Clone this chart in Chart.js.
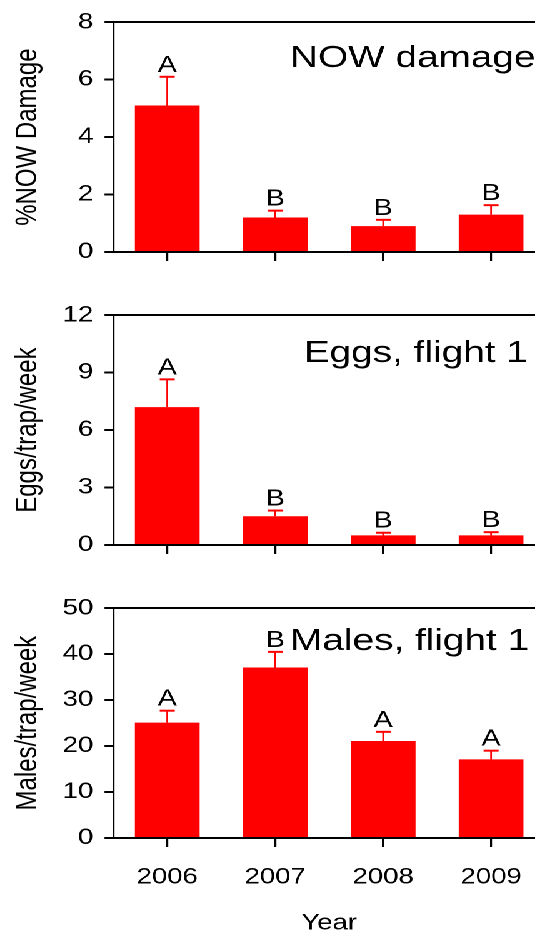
<!DOCTYPE html>
<html>
<head>
<meta charset="utf-8">
<script src="https://cdn.jsdelivr.net/npm/chart.js@4.4.1/dist/chart.umd.min.js"></script>
<style>
  html, body { margin: 0; padding: 0; background: #fff; width: 535px; height: 933px; overflow: hidden; }
  /* the original figure is stretched sideways, so the whole stack is too */
  #wrap { width: 437px; transform: scaleX(1.25); transform-origin: 0 0; }
  .panel { position: relative; width: 437px; }
</style>
</head>
<body>
<div id="wrap">
  <div class="panel" style="height:293px"><canvas id="damage"></canvas></div>
  <div class="panel" style="height:293px"><canvas id="eggs"></canvas></div>
  <div class="panel" style="height:347px"><canvas id="males"></canvas></div>
</div>
<script>
// Dados
const years = ['2006', '2007', '2008', '2009'];

const damageMean = [5.1, 1.2, 0.9, 1.3];
const damageSE = [1.0, 0.24, 0.22, 0.33];
const damageLetters = ['A', 'B', 'B', 'B'];

const eggsMean = [7.2, 1.5, 0.5, 0.5];
const eggsSE = [1.45, 0.3, 0.14, 0.17];
const eggsLetters = ['A', 'B', 'B', 'B'];

const malesMean = [25.1, 37.1, 21.1, 17.1];
const malesSE = [2.6, 3.4, 2.0, 1.9];
const malesLetters = ['A', 'B', 'A', 'A'];

const FONT = "'Liberation Sans', Arial, sans-serif";

// barras de erro (só para cima), letras e o título do painel
function annotate(mean, se, letters, title, tx, ty) {
  return {
    id: 'annotate',
    afterDatasetsDraw(chart) {
      const ctx = chart.ctx;
      const xs = chart.scales.x;
      const ys = chart.scales.y;
      ctx.save();
      ctx.strokeStyle = '#ff0000';
      ctx.fillStyle = '#000';
      ctx.font = '23px ' + FONT;
      ctx.textAlign = 'center';
      ctx.textBaseline = 'alphabetic';
      mean.forEach((m, i) => {
        const x = xs.getPixelForValue(i);
        const y0 = ys.getPixelForValue(m);
        const y1 = ys.getPixelForValue(m + se[i]);
        ctx.lineWidth = 1.4;
        ctx.beginPath();
        ctx.moveTo(x, y0);
        ctx.lineTo(x, y1);
        ctx.stroke();
        ctx.lineWidth = 2;
        ctx.beginPath();
        ctx.moveTo(x - 6, y1);
        ctx.lineTo(x + 6, y1);
        ctx.stroke();
        ctx.fillText(letters[i], x, y1 - 5);
      });
      ctx.font = '31px ' + FONT;
      ctx.textAlign = 'left';
      ctx.fillText(title, tx, ty);
      ctx.restore();
    }
  };
}

function makePanel(id, cfg) {
  return new Chart(document.getElementById(id), {
    type: 'bar',
    data: {
      labels: years,
      datasets: [{
        data: cfg.mean,
        backgroundColor: '#ff0000',
        borderWidth: 0,
        barPercentage: 0.6,
        categoryPercentage: 1,
      }],
    },
    options: {
      responsive: true,
      maintainAspectRatio: false,
      animation: false,
      devicePixelRatio: 2,
      layout: { padding: { top: 21, right: 1, left: 0, bottom: 0 } },
      plugins: {
        legend: { display: false },
        tooltip: { enabled: false },
      },
      scales: {
        x: {
          offset: true,
          grid: { display: true, drawOnChartArea: false, offset: false, tickLength: 9, lineWidth: 1.6, color: '#000' },
          border: { display: true, color: '#000', width: 2 },
          ticks: { display: cfg.showYears, color: '#000', font: { family: FONT, size: 22 }, padding: 17, maxRotation: 0 },
          title: {
            display: cfg.showYears, text: 'Year', color: '#000',
            font: { family: FONT, size: 22, lineHeight: 0.85 }, padding: 0,
          },
          afterFit: (s) => { s.height = cfg.xHeight; },
        },
        top: {
          type: 'linear',
          axis: 'x',
          position: 'top',
          grid: { display: false },
          ticks: { display: false },
          border: { display: true, color: '#000', width: 2 },
          afterFit: (s) => { s.height = 0; },
        },
        y: {
          min: 0,
          max: cfg.max,
          grid: { drawOnChartArea: false, tickLength: 7, lineWidth: 2, color: '#000' },
          border: { color: '#000', width: 1.6 },
          ticks: { stepSize: cfg.step, color: '#000', font: { family: FONT, size: 22 }, padding: 9 },
          title: {
            display: true, text: cfg.yTitle, color: '#000',
            font: { family: FONT, size: 24 }, padding: { top: 8, bottom: 0 },
          },
          afterFit: (s) => { s.width = 90.6; },
        },
      },
    },
    plugins: [annotate(cfg.mean, cfg.se, cfg.letters, cfg.title, cfg.tx, cfg.ty)],
  });
}

makePanel('damage', {
  mean: damageMean, se: damageSE, letters: damageLetters,
  max: 8, step: 2, yTitle: '%NOW Damage',
  title: 'NOW damage', tx: 232, ty: 67,
  showYears: false, xHeight: 41,
});

makePanel('eggs', {
  mean: eggsMean, se: eggsSE, letters: eggsLetters,
  max: 12, step: 3, yTitle: 'Eggs/trap/week',
  title: 'Eggs, flight 1', tx: 243, ty: 69,
  showYears: false, xHeight: 41,
});

makePanel('males', {
  mean: malesMean, se: malesSE, letters: malesLetters,
  max: 50, step: 10, yTitle: 'Males/trap/week',
  title: 'Males, flight 1', tx: 232, ty: 64,
  showYears: true, xHeight: 95,
});
</script>
</body>
</html>
